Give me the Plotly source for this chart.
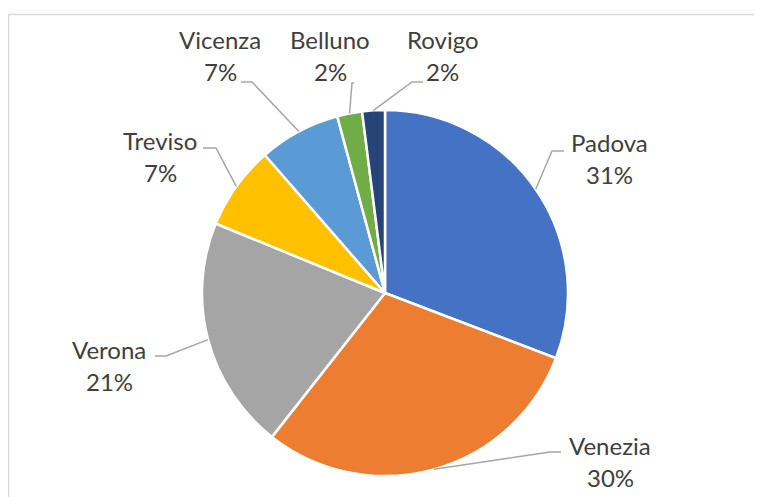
import math
import plotly.graph_objects as go

# data (share of total)
provinces = ["Padova", "Venezia", "Verona", "Treviso", "Vicenza", "Belluno", "Rovigo"]
shares = [30.8, 29.8, 20.6, 7.4, 7.2, 2.2, 2.0]
colors = ["#4472C4", "#ED7D31", "#A5A5A5", "#FFC000", "#5B9BD5", "#70AD47", "#264478"]

OFF = 8  # the page body margin shifts the figure by 8px
W, H = 762 - OFF, 497 - OFF
CX, CY, R = 385, 293, 183  # pie centre and radius in page pixels

# label placement (page pixels): text centre x, name centre y, elbow of leader, end of leader
label_pos = {
    "Padova":  dict(x=609, y=143, elbow=(552, 151), end=(564, 151)),
    "Venezia": dict(x=610, y=445, elbow=(550, 452), end=(561, 452)),
    "Verona":  dict(x=109, y=349, elbow=(166, 356), end=(155, 356)),
    "Treviso": dict(x=160, y=140, elbow=(216, 148), end=(203, 148)),
    "Vicenza": dict(x=220, y=40, elbow=(252, 82), end=(241, 82)),
    "Belluno": dict(x=330, y=40, elbow=(352, 83), end=(354, 83)),
    "Rovigo":  dict(x=443, y=40, elbow=(412, 82), end=(423, 82)),
}
LINE_GAP = 32

def px(x):
    return (x - OFF) / W

def py(y):
    return 1 - (y - OFF) / H

fig = go.Figure()

fig.add_trace(go.Pie(
    labels=provinces, values=shares, sort=False, direction="clockwise",
    rotation=0, textinfo="none", hoverinfo="skip",
    marker=dict(colors=colors, line=dict(color="white", width=2.5)),
    domain=dict(x=[px(CX - R), px(CX + R)], y=[py(CY + R), py(CY - R)]),
))

total = sum(shares)
cum = 0
shapes = []
annotations = []
for name, v in zip(provinces, shares):
    mid = (cum + v / 2) / total * 2 * math.pi
    cum += v
    sx = CX + R * math.sin(mid)
    sy = CY - R * math.cos(mid)
    pos = label_pos[name]
    pts = [(sx, sy), pos["elbow"], pos["end"]]
    path = "M " + " L ".join(f"{px(a):.5f},{py(b):.5f}" for a, b in pts)
    shapes.append(dict(type="path", path=path, xref="paper", yref="paper",
                       line=dict(color="#A6A6A6", width=1.5)))
    pct = f"{round(v / total * 100)}%"
    for i, t in enumerate([name, pct]):
        annotations.append(dict(x=px(pos["x"]), y=py(pos["y"] + i * LINE_GAP),
                                xref="paper", yref="paper", text=t, showarrow=False,
                                xanchor="center", yanchor="middle",
                                font=dict(family="Lato", size=24, color="#404040")))

# chart border (top and left visible)
shapes.append(dict(type="line", xref="paper", yref="paper", x0=px(8.5), x1=1.02,
                   y0=py(14.5), y1=py(14.5), line=dict(color="#D9D9D9", width=1.5)))
shapes.append(dict(type="line", xref="paper", yref="paper", x0=px(8.5), x1=px(8.5),
                   y0=py(14.5), y1=-0.02, line=dict(color="#D9D9D9", width=1.5)))

fig.update_layout(
    width=W, height=H, margin=dict(l=0, r=0, t=0, b=0),
    paper_bgcolor="white", plot_bgcolor="white", showlegend=False,
    shapes=shapes, annotations=annotations,
)

fig.write_html("out.html")
